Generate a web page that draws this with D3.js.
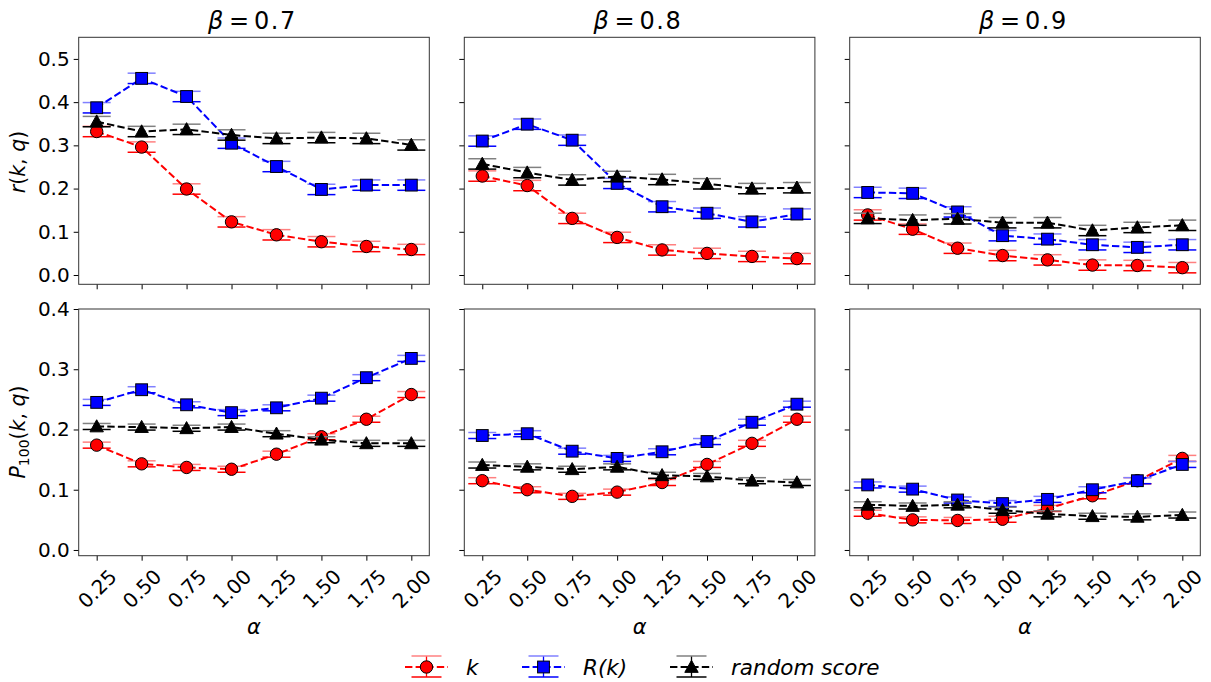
<!DOCTYPE html>
<html>
<head>
<meta charset="utf-8">
<script src="https://cdn.jsdelivr.net/npm/d3@7"></script>
<style>
  body { margin:0; background:#fff; }
  svg text { font-family: "DejaVu Sans", sans-serif; fill:#000; }
</style>
</head>
<body>
<svg id="root"></svg>
<script>
var width = 1211, height = 682;

// data
var alphas = [0.25, 0.50, 0.75, 1.00, 1.25, 1.50, 1.75, 2.00];
var betas = ["0.7", "0.8", "0.9"];
var seriesNames = ["k", "R(k)", "random score"];

// r(k,q), one array per beta
var rK    = [[0.332,0.296,0.199,0.123,0.093,0.077,0.066,0.059],
             [0.229,0.207,0.131,0.087,0.058,0.050,0.043,0.038],
             [0.139,0.106,0.062,0.045,0.035,0.023,0.022,0.017]];
var rRK   = [[0.387,0.455,0.413,0.305,0.251,0.198,0.208,0.208],
             [0.310,0.349,0.312,0.212,0.158,0.143,0.123,0.141],
             [0.191,0.189,0.146,0.091,0.083,0.070,0.064,0.070]];
var rRand = [[0.355,0.332,0.337,0.324,0.316,0.318,0.316,0.301],
             [0.257,0.237,0.220,0.228,0.221,0.211,0.200,0.202],
             [0.131,0.127,0.130,0.121,0.121,0.103,0.110,0.115]];
// P100(k,q)
var pK    = [[0.174,0.143,0.137,0.134,0.159,0.188,0.217,0.258],
             [0.115,0.100,0.089,0.096,0.112,0.142,0.177,0.217],
             [0.061,0.050,0.049,0.051,0.069,0.090,0.115,0.152]];
var pRK   = [[0.245,0.266,0.241,0.228,0.236,0.252,0.286,0.318],
             [0.190,0.193,0.164,0.152,0.163,0.180,0.212,0.242],
             [0.108,0.101,0.083,0.077,0.084,0.100,0.115,0.142]];
var pRand = [[0.205,0.204,0.202,0.204,0.193,0.183,0.177,0.177],
             [0.141,0.138,0.134,0.138,0.124,0.122,0.115,0.112],
             [0.075,0.073,0.075,0.066,0.060,0.056,0.055,0.058]];
var rowErr = [0.012, 0.005];

var yTicksTop = [0.0, 0.1, 0.2, 0.3, 0.4, 0.5];
var yTicksBottom = [0.0, 0.1, 0.2, 0.3, 0.4];

var colors = ["#ff0000", "#0000ff", "#000000"];
var lightColors = ["#ff8080", "#8080ff", "#808080"];
var markers = ["circle", "square", "triangle"];

var colX = [78.7, 464.3, 849.7];
var panelW = 350.6;
var rowY = [37.3, 309];
var rowH = [247, 246.7];

var svg = d3.select('#root').attr('width', width).attr('height', height);

var xscale = d3.scaleLinear().domain([0.15, 2.1]);
var yDomains = [[-0.0215, 0.55], [-0.0095, 0.4]];

function drawMarker(g, type, cx, cy, fill) {
  if (type == "circle") {
    g.append('circle').attr('cx', cx).attr('cy', cy).attr('r', 6.2)
      .attr('fill', fill).attr('stroke', '#000').attr('stroke-width', 1);
  } else if (type == "square") {
    g.append('rect').attr('x', cx - 5.9).attr('y', cy - 5.9).attr('width', 11.8).attr('height', 11.8)
      .attr('fill', fill).attr('stroke', '#000').attr('stroke-width', 1);
  } else {
    var s = 6.7;
    g.append('path').attr('d', 'M' + cx + ',' + (cy - s) + 'L' + (cx + s) + ',' + (cy + s * 0.8) + 'L' + (cx - s) + ',' + (cy + s * 0.8) + 'Z')
      .attr('fill', fill).attr('stroke', '#000').attr('stroke-width', 1);
  }
}

function errorBar(g, cx, ytop, ybot, i, capw) {
  g.append('line').attr('x1', cx).attr('x2', cx).attr('y1', ytop).attr('y2', ybot)
    .attr('stroke', colors[i]).attr('stroke-width', 1.3);
  g.append('line').attr('x1', cx - capw).attr('x2', cx + capw).attr('y1', ytop).attr('y2', ytop)
    .attr('stroke', lightColors[i]).attr('stroke-width', 1.5);
  g.append('line').attr('x1', cx - capw).attr('x2', cx + capw).attr('y1', ybot).attr('y2', ybot)
    .attr('stroke', colors[i]).attr('stroke-width', 1.5);
}

function drawPanel(row, col) {
  var x0 = colX[col], y0 = rowY[row], w = panelW, h = rowH[row];
  var xs = xscale.copy().range([0, w]);
  var ys = d3.scaleLinear().domain(yDomains[row]).range([h, 0]);
  var g = svg.append('g').attr('transform', 'translate(' + x0 + ',' + y0 + ')');

  var series = row == 0 ? [rK[col], rRK[col], rRand[col]] : [pK[col], pRK[col], pRand[col]];
  var err = rowErr[row];

  var plot = g.append('g');
  series.forEach(function(vals, i) {
    var sg = plot.append('g');
    vals.forEach(function(v, j) {
      errorBar(sg, xs(alphas[j]), ys(v + err), ys(v - err), i, 14);
    });
    var line = d3.line().x(function(d, j) { return xs(alphas[j]); }).y(function(d) { return ys(d); });
    sg.append('path').datum(vals).attr('d', line).attr('fill', 'none')
      .attr('stroke', colors[i]).attr('stroke-width', 2).attr('stroke-dasharray', '7.4,3.2');
    vals.forEach(function(v, j) {
      drawMarker(sg, markers[i], xs(alphas[j]), ys(v), colors[i]);
    });
  });

  // axes
  var yaxis = d3.axisLeft(ys).tickValues(row == 0 ? yTicksTop : yTicksBottom).tickSize(5).tickPadding(4)
    .tickFormat(col == 0 ? d3.format('.1f') : '');
  var ya = g.append('g').call(yaxis);
  ya.select('.domain').remove();
  ya.selectAll('text').style('font-size', '20px');

  var xaxis = d3.axisBottom(xs).tickValues(alphas).tickSize(5)
    .tickFormat(row == 1 ? d3.format('.2f') : '');
  var xa = g.append('g').attr('transform', 'translate(0,' + h + ')').call(xaxis);
  xa.select('.domain').remove();
  xa.selectAll('text').style('font-size', '20px')
    .attr('y', 0).attr('dy', '0.35em').attr('text-anchor', 'middle')
    .attr('transform', 'translate(0,33) rotate(-45)');

  g.append('rect').attr('x', 0).attr('y', 0).attr('width', w).attr('height', h)
    .attr('fill', 'none').attr('stroke', '#333').attr('stroke-width', 1);

  if (row == 0) {
    var t = g.append('g').attr('transform', 'translate(' + (w / 2) + ',-8)').style('font-size', '24px');
    t.append('text').attr('x', -46).style('font-style', 'italic').text('β');
    t.append('text').attr('x', -25).text('=');
    t.append('text').attr('x', 0).style('letter-spacing', '1.5px').text(betas[col]);
  } else {
    g.append('text').attr('x', w / 2).attr('y', h + 78).attr('text-anchor', 'middle')
      .style('font-size', '21px').style('font-style', 'italic').text('α');
  }
}

for (var r = 0; r < 2; r++) {
  for (var c = 0; c < 3; c++) drawPanel(r, c);
}

// y labels
var yl1 = svg.append('text').attr('transform', 'translate(25,162) rotate(-90)').attr('text-anchor', 'middle').style('font-size', '20.5px');
yl1.append('tspan').style('font-style', 'italic').text('r');
yl1.append('tspan').text('(');
yl1.append('tspan').style('font-style', 'italic').text('k');
yl1.append('tspan').text(', ');
yl1.append('tspan').style('font-style', 'italic').text('q');
yl1.append('tspan').text(')');

var yl2 = svg.append('text').attr('transform', 'translate(25,432) rotate(-90)').attr('text-anchor', 'middle').style('font-size', '20.5px');
yl2.append('tspan').style('font-style', 'italic').text('P');
yl2.append('tspan').style('font-size', '14px').attr('dy', 4).text('100');
yl2.append('tspan').attr('dy', -4).text('(');
yl2.append('tspan').style('font-style', 'italic').text('k');
yl2.append('tspan').text(', ');
yl2.append('tspan').style('font-style', 'italic').text('q');
yl2.append('tspan').text(')');

// legend
var legendX = [405, 522, 670];
var legendY = 667;
var lg = svg.append('g');
seriesNames.forEach(function(name, i) {
  var hx = legendX[i], cx = hx + 21.5;
  var item = lg.append('g');
  errorBar(item, cx, legendY - 11, legendY + 10, i, 15);
  item.append('line').attr('x1', hx).attr('x2', hx + 43).attr('y1', legendY).attr('y2', legendY)
    .attr('stroke', colors[i]).attr('stroke-width', 2).attr('stroke-dasharray', '7.4,3.2');
  drawMarker(item, markers[i], cx, legendY, colors[i]);
  item.append('text').attr('x', hx + 61).attr('y', legendY).attr('dy', '0.35em')
    .style('font-size', '21.5px').style('font-style', 'italic').text(name);
});
</script>
</body>
</html>
